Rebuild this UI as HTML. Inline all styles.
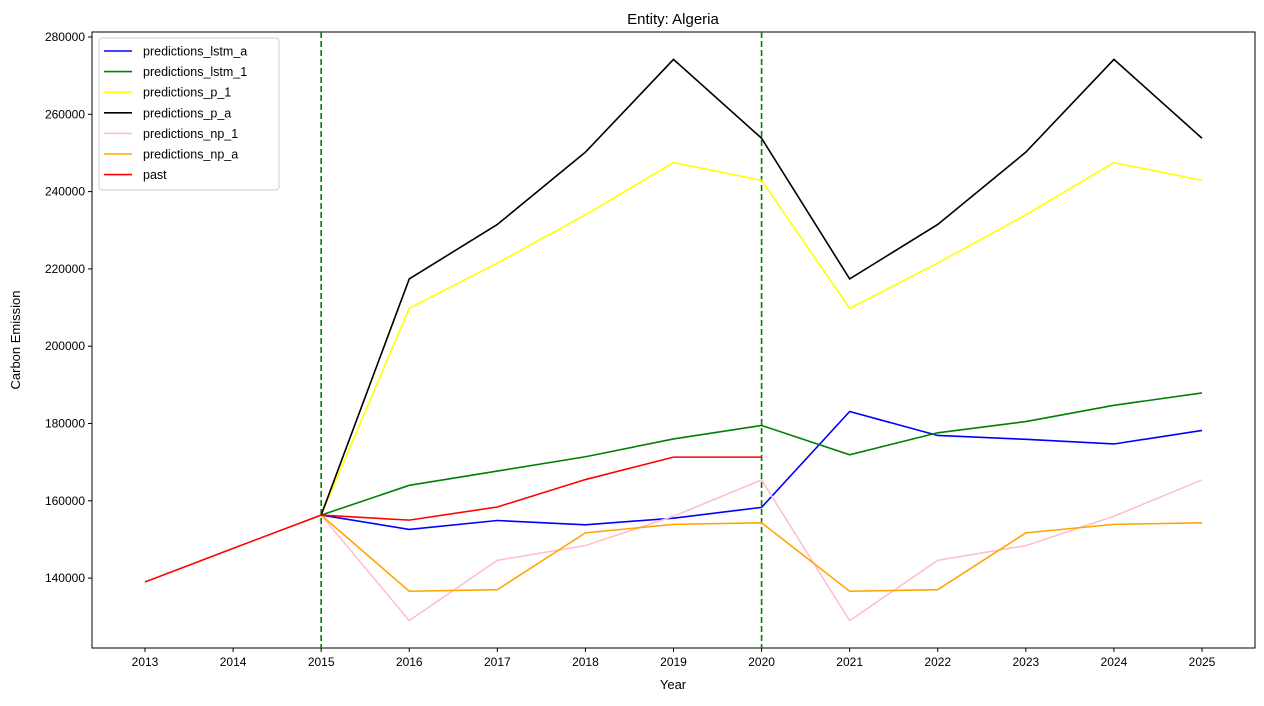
<!DOCTYPE html>
<html><head><meta charset="utf-8"><style>
html,body{margin:0;padding:0;background:#fff;}
svg text{font-family:"Liberation Sans","DejaVu Sans",sans-serif;fill:#000;}
</style></head><body>
<svg id="chart" width="1264" height="701" xmlns="http://www.w3.org/2000/svg"></svg>
<script>
const years=[2013,2014,2015,2016,2017,2018,2019,2020,2021,2022,2023,2024,2025];
const predYears=[2015,2016,2017,2018,2019,2020,2021,2022,2023,2024,2025];
const pastYears=[2013,2014,2015,2016,2017,2018,2019,2020];
const yTicks=[140000,160000,180000,200000,220000,240000,260000,280000];
const lstmA=[156300,152600,154900,153800,155500,158300,183100,176900,175900,174700,178200];
const lstm1=[156300,164000,167700,171400,176000,179500,171900,177600,180500,184700,187900];
const p1=[156300,209800,221500,234000,247500,242900,209800,221500,234000,247500,242900];
const pA=[156300,217400,231500,250200,274200,253800,217400,231500,250200,274200,253800];
const np1=[156300,129000,144600,148400,156000,165400,129000,144600,148400,156000,165400];
const npA=[156300,136600,137000,151700,153900,154300,136600,137000,151700,153900,154300];
const past=[139000,147700,156300,155000,158400,165500,171300,171300];
const vlines=[2015,2020];
const series=[
 {name:"predictions_lstm_a",color:"blue",xs:predYears,ys:lstmA},
 {name:"predictions_lstm_1",color:"green",xs:predYears,ys:lstm1},
 {name:"predictions_p_1",color:"yellow",xs:predYears,ys:p1},
 {name:"predictions_p_a",color:"black",xs:predYears,ys:pA},
 {name:"predictions_np_1",color:"pink",xs:predYears,ys:np1},
 {name:"predictions_np_a",color:"orange",xs:predYears,ys:npA},
 {name:"past",color:"red",xs:pastYears,ys:past}
];
const L=92,R=1255,T=32,B=648;
const x=v=>145+(v-2013)*88.083;
const y=v=>37+(280000-v)/20000*77.3;
const svg=document.getElementById('chart');
const NS="http://www.w3.org/2000/svg";
function mk(tag,attrs,parent){const e=document.createElementNS(NS,tag);for(const k in attrs)e.setAttribute(k,attrs[k]);(parent||svg).appendChild(e);return e;}
// axes frame
let fr=mk('rect',{x:L,y:T,width:R-L,height:B-T,fill:'none',stroke:'#000','stroke-width':1});


years.forEach(yr=>{
 const g=mk('g',{});
 
 
 mk('line',{x1:x(yr),x2:x(yr),y1:B,y2:B+4,stroke:'#000'},g);
 const t=mk('text',{x:x(yr),y:B+18,'text-anchor':'middle','font-size':12},g);t.textContent=yr;
});
yTicks.forEach(v=>{
 const g=mk('g',{});
 
 
 mk('line',{x1:L-4,x2:L,y1:y(v),y2:y(v),stroke:'#000'},g);
 const t=mk('text',{x:L-7,y:y(v)+4,'text-anchor':'end','font-size':12},g);t.textContent=v;
});
vlines.forEach(v=>{
 const l=mk('line',{x1:x(v),x2:x(v),y1:T,y2:B,stroke:'green','stroke-width':1.6,'stroke-dasharray':'6,3'});
 
 
});
series.forEach(s=>{
 const p=mk('polyline',{points:s.xs.map((xv,i)=>x(xv)+','+y(s.ys[i])).join(' '),fill:'none',stroke:s.color,'stroke-width':1.6});
 
 
});
// legend
const lg=mk('g',{});


mk('rect',{x:99,y:38,width:180,height:152,rx:3,fill:'#fff',stroke:'#ccc'},lg);
series.forEach((s,i)=>{
 const g=mk('g',{},lg);
 
 
 const yy=51+i*20.6;
 mk('line',{x1:104,x2:132,y1:yy,y2:yy,stroke:s.color,'stroke-width':1.6},g);
 const t=mk('text',{x:143,y:yy+4.5,'font-size':12.5},g);t.textContent=s.name;
});
let t=mk('text',{x:673,y:24,'text-anchor':'middle','font-size':15});t.textContent='Entity: Algeria';

t=mk('text',{x:673,y:689,'text-anchor':'middle','font-size':13});t.textContent='Year';

t=mk('text',{x:20,y:340,'text-anchor':'middle','font-size':13,transform:'rotate(-90 20 340)'});t.textContent='Carbon Emission';

</script>
</body></html>
